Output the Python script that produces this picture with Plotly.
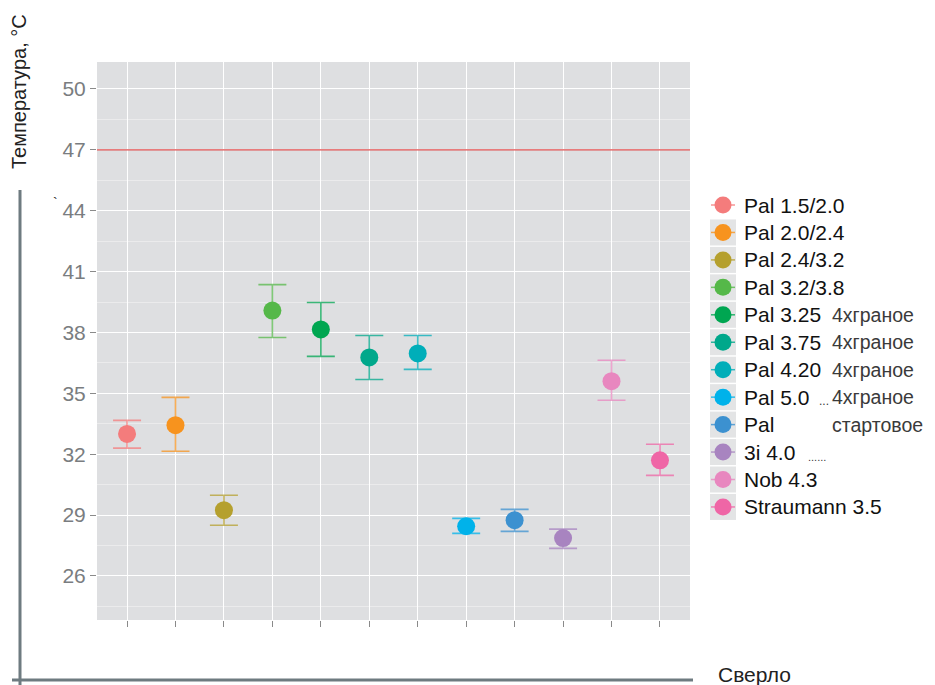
import plotly.graph_objects as go

# ---------------- data ----------------
names = ["Pal 1.5/2.0", "Pal 2.0/2.4", "Pal 2.4/3.2", "Pal 3.2/3.8",
         "Pal 3.25", "Pal 3.75", "Pal 4.20", "Pal 5.0",
         "Pal", "3i 4.0", "Nob 4.3", "Straumann 3.5"]
suffix = ["", "", "", "", "4хграное", "4хграное", "4хграное", "4хграное",
          "стартовое", "", "", ""]
mean_t = [33.0, 33.43, 29.24, 39.08, 38.15, 36.77, 36.97, 28.45, 28.75, 27.87, 35.6, 31.7]
upper_t = [33.67, 34.8, 29.98, 40.36, 39.48, 37.85, 37.85, 28.84, 29.28, 28.31, 36.63, 32.49]
lower_t = [32.3, 32.15, 28.5, 37.75, 36.82, 35.68, 36.18, 28.1, 28.2, 27.36, 34.66, 30.96]
colors = ["#F47C7C", "#F7931E", "#B5A02E", "#55B849", "#00A651", "#00A88B",
          "#00AEB9", "#00B2EA", "#3C91D0", "#A884C0", "#E887BF", "#EF66A6"]
limit_t = 47
y_ticks = [26, 29, 32, 35, 38, 41, 44, 47, 50]

# ---------------- geometry helpers (screen pixels; page body has 8px margin) ----------------
OFF = 8
W, H = 935 - OFF, 685 - OFF
ML, MT = 97 - OFF, 62 - OFF
PW, PH = 593, 558
MR, MB = W - ML - PW, H - MT - PH


def px(x):
    return (x - 97) / PW


def py(y):
    return (620 - y) / PH


def hex_rgba(h, a):
    h = h.lstrip("#")
    return "rgba(%d,%d,%d,%.2f)" % (int(h[0:2], 16), int(h[2:4], 16), int(h[4:6], 16), a)


fig = go.Figure()
for i, n in enumerate(names):
    fig.add_trace(go.Scatter(
        x=[i], y=[mean_t[i]], name=n, mode="markers", showlegend=False,
        marker=dict(color=colors[i], size=18),
        error_y=dict(type="data", symmetric=False,
                     array=[upper_t[i] - mean_t[i]],
                     arrayminus=[mean_t[i] - lower_t[i]],
                     color=hex_rgba(colors[i], 0.75), thickness=1.6, width=14),
    ))

fig.add_hline(y=limit_t, line=dict(color="#E05050", width=1.2))

shapes = []
annotations = []
# ---- manual legend (ggplot-like keys) ----
row0, rstep = 205, 27.45
kx0, kx1, kc, r = 710, 736, 723, 8.5
for i, n in enumerate(names):
    yc = row0 + rstep * i
    shapes.append(dict(type="rect", xref="paper", yref="paper", layer="below",
                       x0=px(kx0), x1=px(kx1), y0=py(yc - 13), y1=py(yc + 13),
                       fillcolor="#e3e4e5", line=dict(width=0)))
    shapes.append(dict(type="line", xref="paper", yref="paper",
                       x0=px(kx0 + 1), x1=px(kx1 - 1), y0=py(yc), y1=py(yc),
                       line=dict(color=hex_rgba(colors[i], 0.8), width=1.5)))
    shapes.append(dict(type="circle", xref="paper", yref="paper",
                       x0=px(kc - r), x1=px(kc + r), y0=py(yc + r), y1=py(yc - r),
                       fillcolor=colors[i], line=dict(width=0)))
    annotations.append(dict(text=n, xref="paper", yref="paper", x=px(742), y=py(yc),
                            xanchor="left", yanchor="middle", showarrow=False,
                            font=dict(size=21, color="#111111")))
    if suffix[i]:
        annotations.append(dict(text=suffix[i], xref="paper", yref="paper", x=px(830),
                                y=py(yc), xanchor="left", yanchor="middle",
                                showarrow=False, font=dict(size=19.5, color="#3a3a3a")))
annotations.append(dict(text="...", xref="paper", yref="paper", x=px(831),
                        y=py(row0 + rstep * 7 + 4), xanchor="right", yanchor="middle",
                        showarrow=False, font=dict(size=12, color="#3a3a3a")))
annotations.append(dict(text="......", xref="paper", yref="paper", x=px(806),
                        y=py(row0 + rstep * 9 + 5), xanchor="left", yanchor="middle",
                        showarrow=False, font=dict(size=11, color="#3a3a3a")))

# decorative axes lines
shapes.append(dict(type="line", xref="paper", yref="paper", x0=px(20), x1=px(20),
                   y0=py(190), y1=py(690), line=dict(color="#6E7B80", width=3)))
shapes.append(dict(type="line", xref="paper", yref="paper", x0=px(12), x1=px(693),
                   y0=py(680), y1=py(680), line=dict(color="#6E7B80", width=3)))

annotations += [
    dict(text="Температура, °C", textangle=-90, xref="paper", yref="paper",
         x=px(19), y=py(92), xanchor="center", yanchor="middle", showarrow=False,
         font=dict(size=20, color="#222222")),
    dict(text="Сверло", xref="paper", yref="paper", x=px(716), y=py(674),
         xanchor="left", yanchor="middle", showarrow=False,
         font=dict(size=21, color="#222222")),
    dict(text="`", xref="paper", yref="paper", x=px(60), y=py(203),
         xanchor="right", yanchor="middle", showarrow=False,
         font=dict(size=14, color="#222222")),
]

fig.update_layout(
    width=W, height=H,
    margin=dict(l=ML, r=MR, t=MT, b=MB),
    paper_bgcolor="white", plot_bgcolor="#dedfe1",
    font=dict(family="Liberation Sans, Arial, sans-serif"),
    showlegend=False,
    shapes=shapes, annotations=annotations,
    xaxis=dict(range=[-0.62, 11.62], tickvals=list(range(12)), showticklabels=False,
               ticks="outside", ticklen=6, tickcolor="#8a8a8a", tickwidth=1.2,
               showgrid=True, gridcolor="white", gridwidth=1.4, zeroline=False,
               showline=False),
    yaxis=dict(range=[23.83, 51.33], tickvals=y_ticks, ticks="outside", ticklen=6,
               tickcolor="#8a8a8a", tickwidth=1.2,
               tickfont=dict(size=21, color="#7a7d80"),
               showgrid=True, gridcolor="white", gridwidth=1.4, zeroline=False,
               showline=False,
               minor=dict(tickvals=[24.5, 27.5, 30.5, 33.5, 36.5, 39.5, 42.5, 45.5, 48.5],
                          showgrid=True, gridcolor="#ebebec", gridwidth=0.7, ticks="")),
)

fig.write_html("out.html")
